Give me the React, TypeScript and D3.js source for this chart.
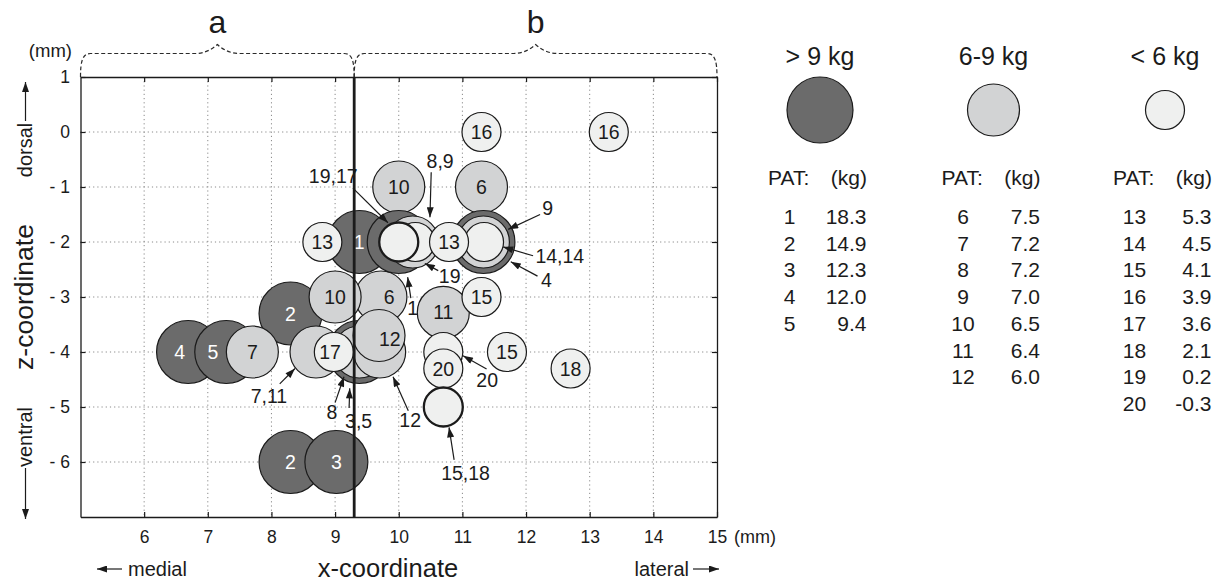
import React, { useRef, useEffect } from "react";
import * as d3 from "d3";

const W = 1215;
const H = 584;
const FONT = "'Liberation Sans', Arial, Helvetica, sans-serif";

// axes (mm)
const xDomain = [5, 15];
const zDomain = [-7, 1];
const xTicks = [6, 7, 8, 9, 10, 11, 12, 13, 14, 15];
const zTicks = [1, 0, -1, -2, -3, -4, -5, -6];
const xGrid = [6, 7, 8, 9, 10, 11, 12, 13, 14];
const zGrid = [0, -1, -2, -3, -4, -5, -6];
const divider = 9.3;

// patients and their weights (kg)
const patIds = d3.range(1, 21);
const patKg = [18.3, 14.9, 12.3, 12.0, 9.4, 7.5, 7.2, 7.2, 7.0, 6.5, 6.4, 6.0, 5.3, 4.5, 4.1, 3.9, 3.6, 2.1, 0.2, -0.3];

const classes = [
  { key: "heavy", title: "> 9 kg" },
  { key: "mid", title: "6-9 kg" },
  { key: "light", title: "< 6 kg" },
];

// spots in drawing order; lx / lz = where the number is printed when it is not the centre
type Spot = { pat: number; x: number; z: number; label?: boolean; stack?: boolean; lx?: number; lz?: number };
const spots: Spot[] = [
  { pat: 2, x: 8.3, z: -3.3, label: true },
  { pat: 4, x: 6.69, z: -4.0, label: true, lx: 6.56 },
  { pat: 5, x: 7.29, z: -4.0, label: true, lx: 7.08 },
  { pat: 7, x: 7.7, z: -4.0, label: true },
  { pat: 3, x: 9.38, z: -4.0 },
  { pat: 8, x: 9.38, z: -4.0 },
  { pat: 11, x: 8.7, z: -4.0 },
  { pat: 17, x: 8.98, z: -4.0, label: true, lx: 8.92 },
  { pat: 6, x: 9.72, z: -3.0, label: true, lx: 9.85 },
  { pat: 10, x: 9.0, z: -3.0, label: true },
  { pat: 12, x: 9.7, z: -4.0 },
  { pat: 12, x: 9.69, z: -3.7, label: true, lx: 9.86, lz: -3.76 },
  { pat: 10, x: 10.0, z: -1.0, label: true },
  { pat: 6, x: 11.3, z: -1.0, label: true },
  { pat: 1, x: 9.38, z: -2.0, label: true },
  { pat: 1, x: 10.0, z: -2.0 },
  { pat: 9, x: 10.22, z: -2.0 },
  { pat: 19, x: 10.26, z: -2.0 },
  { pat: 17, x: 10.0, z: -2.0, stack: true },
  { pat: 13, x: 8.8, z: -2.0, label: true },
  { pat: 4, x: 11.33, z: -2.0 },
  { pat: 9, x: 11.33, z: -2.0 },
  { pat: 14, x: 11.34, z: -2.0 },
  { pat: 13, x: 10.79, z: -2.0, label: true },
  { pat: 16, x: 11.3, z: 0.0, label: true },
  { pat: 16, x: 13.3, z: 0.0, label: true },
  { pat: 11, x: 10.7, z: -3.28, label: true },
  { pat: 15, x: 11.3, z: -3.0, label: true },
  { pat: 20, x: 10.7, z: -4.0 },
  { pat: 20, x: 10.7, z: -4.3, label: true },
  { pat: 15, x: 10.7, z: -5.0, stack: true },
  { pat: 15, x: 11.7, z: -4.0, label: true },
  { pat: 18, x: 12.7, z: -4.3, label: true },
  { pat: 2, x: 8.3, z: -6.0, label: true },
  { pat: 3, x: 9.02, z: -6.0, label: true },
];

// callouts: text anchor (middle, baseline) and arrow from (x1,z1) to (x2,z2), all in mm
const callouts = [
  { text: "19,17", tx: 8.97, tz: -0.93, x1: 9.28, z1: -1.02, x2: 9.83, z2: -1.65 },
  { text: "8,9", tx: 10.65, tz: -0.65, x1: 10.51, z1: -0.73, x2: 10.49, z2: -1.55 },
  { text: "9", tx: 12.34, tz: -1.51, x1: 12.22, z1: -1.5, x2: 11.72, z2: -1.77 },
  { text: "14,14", tx: 12.53, tz: -2.38, x1: 12.11, z1: -2.25, x2: 11.64, z2: -2.09 },
  { text: "4", tx: 12.32, tz: -2.81, x1: 12.18, z1: -2.62, x2: 11.76, z2: -2.36 },
  { text: "19", tx: 10.8, tz: -2.75, x1: 10.62, z1: -2.52, x2: 10.41, z2: -2.39 },
  { text: "1", tx: 10.22, tz: -3.33, x1: 10.19, z1: -3.02, x2: 10.14, z2: -2.64 },
  { text: "7,11", tx: 7.96, tz: -4.93, x1: 8.13, z1: -4.58, x2: 8.37, z2: -4.3 },
  { text: "8", tx: 8.95, tz: -5.21, x1: 9.0, z1: -4.92, x2: 9.14, z2: -4.45 },
  { text: "3,5", tx: 9.37, tz: -5.39, x1: 9.22, z1: -5.02, x2: 9.23, z2: -4.66 },
  { text: "12", tx: 10.18, tz: -5.37, x1: 10.15, z1: -5.07, x2: 9.91, z2: -4.45 },
  { text: "20", tx: 11.39, tz: -4.64, x1: 11.38, z1: -4.31, x2: 11.01, z2: -4.07 },
  { text: "15,18", tx: 11.05, tz: -6.33, x1: 10.87, z1: -5.96, x2: 10.79, z2: -5.37 },
];

const fill: Record<string, string> = { heavy: "#6b6b6b", mid: "#d2d3d4", light: "#eff0ef" };
const radius: Record<string, number> = { heavy: 31.5, mid: 26, light: 19.5 };
const INK = "#1b1b1b";

const classOf = (kg: number) => (kg > 9 ? "heavy" : kg >= 6 ? "mid" : "light");
const kgOf = (pat: number) => patKg[patIds.indexOf(pat)];

export default function App() {
  const svgRef = useRef<SVGSVGElement>(null);

  useEffect(() => {
    const svg = d3.select(svgRef.current);
    svg.selectAll("*").remove();
    svg.style("font-family", FONT);

    const left = 80.5, right = 717, top = 77, bottom = 517;
    const x = d3.scaleLinear().domain(xDomain).range([left, right]);
    const z = d3.scaleLinear().domain(zDomain).range([bottom, top]);

    const defs = svg.append("defs");
    defs
      .append("marker")
      .attr("id", "head")
      .attr("viewBox", "0 0 10 7")
      .attr("refX", 10)
      .attr("refY", 3.5)
      .attr("markerUnits", "userSpaceOnUse")
      .attr("markerWidth", 11)
      .attr("markerHeight", 7)
      .attr("orient", "auto")
      .append("path")
      .attr("d", "M0,0 L10,3.5 L0,7 z")
      .attr("fill", INK);

    // grid
    const grid = svg.append("g").attr("stroke", "#8a8a8a").attr("stroke-width", 1).attr("stroke-dasharray", "1.2,3");
    xGrid.forEach((v) => grid.append("line").attr("x1", x(v)).attr("x2", x(v)).attr("y1", top).attr("y2", bottom));
    zGrid.forEach((v) => grid.append("line").attr("y1", z(v)).attr("y2", z(v)).attr("x1", left).attr("x2", right));

    // axes with inner ticks
    const styleAxis = (g: any) => {
      g.selectAll("path").attr("stroke", INK).attr("stroke-width", 1.3);
      g.selectAll("line").attr("stroke", INK).attr("stroke-width", 1.2);
      g.selectAll("text").attr("fill", INK).style("font-family", FONT).style("font-size", "17.5px");
    };
    svg
      .append("g")
      .attr("transform", `translate(0,${bottom})`)
      .call(d3.axisBottom(x).tickValues(xTicks).tickSize(-5).tickSizeOuter(0).tickPadding(13.5).tickFormat(d3.format("d")))
      .call(styleAxis);
    svg
      .append("g")
      .attr("transform", `translate(${left},0)`)
      .call(
        d3
          .axisLeft(z)
          .tickValues(zTicks)
          .tickSize(-5)
          .tickSizeOuter(0)
          .tickPadding(10.5)
          .tickFormat((d: any) => (d < 0 ? `- ${Math.abs(d)}` : `${d}`))
      )
      .call(styleAxis);
    svg
      .append("g")
      .attr("transform", `translate(0,${top})`)
      .call(d3.axisTop(x).tickValues(xTicks).tickSize(-5).tickSizeOuter(0).tickFormat(() => ""))
      .call(styleAxis);
    svg
      .append("g")
      .attr("transform", `translate(${right},0)`)
      .call(d3.axisRight(z).tickValues(zTicks).tickSize(-5).tickSizeOuter(0).tickFormat(() => ""))
      .call(styleAxis);

    // spots
    const spotG = svg.append("g");
    spots.forEach((s) => {
      const cls = classOf(kgOf(s.pat));
      spotG
        .append("circle")
        .attr("cx", x(s.x))
        .attr("cy", z(s.z))
        .attr("r", radius[cls])
        .attr("fill", fill[cls])
        .attr("stroke", INK)
        .attr("stroke-width", s.stack ? 2.3 : 1.2);
      if (s.label) {
        spotG
          .append("text")
          .attr("x", x(s.lx ?? s.x))
          .attr("y", z(s.lz ?? s.z))
          .attr("dy", "0.36em")
          .attr("text-anchor", "middle")
          .attr("fill", cls === "heavy" ? "#ffffff" : INK)
          .style("font-size", "19.5px")
          .text(s.pat);
      }
    });

    // medial/lateral divider
    svg
      .append("line")
      .attr("x1", x(divider))
      .attr("x2", x(divider))
      .attr("y1", top)
      .attr("y2", bottom)
      .attr("stroke", INK)
      .attr("stroke-width", 2.8);

    // callouts
    const cg = svg.append("g");
    callouts.forEach((c) => {
      cg.append("line")
        .attr("x1", x(c.x1))
        .attr("y1", z(c.z1))
        .attr("x2", x(c.x2))
        .attr("y2", z(c.z2))
        .attr("stroke", INK)
        .attr("stroke-width", 1.2)
        .attr("marker-end", "url(#head)");
      cg.append("text")
        .attr("x", x(c.tx))
        .attr("y", z(c.tz))
        .attr("text-anchor", "middle")
        .attr("fill", INK)
        .style("font-size", "19.5px")
        .text(c.text);
    });

    // braces a / b
    const brace = (x0: number, x1: number) => {
      const yb = top, yt = 53.5, yp = 44.5, mid = (x0 + x1) / 2;
      return `M${x0},${yb} C${x0},${yt + 8} ${x0 + 2},${yt} ${x0 + 10},${yt} L${mid - 22},${yt} Q${mid - 10},${yt} ${mid},${yp} Q${mid + 10},${yt} ${mid + 22},${yt} L${x1 - 10},${yt} C${x1 - 2},${yt} ${x1},${yt + 8} ${x1},${yb}`;
    };
    [
      { t: "a", a: x(xDomain[0]), b: x(divider) },
      { t: "b", a: x(divider), b: x(xDomain[1]) },
    ].forEach((br) => {
      svg
        .append("path")
        .attr("d", brace(br.a, br.b))
        .attr("fill", "none")
        .attr("stroke", "#2a2a2a")
        .attr("stroke-width", 1.2)
        .attr("stroke-dasharray", "4,2.5");
      svg
        .append("text")
        .attr("x", (br.a + br.b) / 2)
        .attr("y", 33)
        .attr("text-anchor", "middle")
        .attr("fill", INK)
        .style("font-size", "32px")
        .text(br.t);
    });

    // unit labels
    svg.append("text").attr("x", 72).attr("y", 57).attr("text-anchor", "end").attr("fill", INK).style("font-size", "18.5px").text("(mm)");
    svg.append("text").attr("x", 734).attr("y", 543).attr("fill", INK).style("font-size", "18px").text("(mm)");

    // x title and direction arrows
    svg.append("text").attr("x", 388).attr("y", 577).attr("text-anchor", "middle").attr("fill", INK).style("font-size", "25.5px").text("x-coordinate");
    svg.append("text").attr("x", 128).attr("y", 576).attr("fill", INK).style("font-size", "20px").text("medial");
    svg.append("line").attr("x1", 122).attr("x2", 97).attr("y1", 569).attr("y2", 569).attr("stroke", INK).attr("stroke-width", 1.2).attr("marker-end", "url(#head)");
    svg.append("text").attr("x", 689).attr("y", 576).attr("text-anchor", "end").attr("fill", INK).style("font-size", "20px").text("lateral");
    svg.append("line").attr("x1", 693).attr("x2", 719).attr("y1", 569).attr("y2", 569).attr("stroke", INK).attr("stroke-width", 1.2).attr("marker-end", "url(#head)");

    // z title and direction arrows
    svg.append("text").attr("transform", "translate(33,297) rotate(-90)").attr("text-anchor", "middle").attr("fill", INK).style("font-size", "26.5px").text("z-coordinate");
    svg.append("text").attr("transform", "translate(32,150) rotate(-90)").attr("text-anchor", "middle").attr("fill", INK).style("font-size", "20px").text("dorsal");
    svg.append("line").attr("x1", 25.5).attr("x2", 25.5).attr("y1", 121).attr("y2", 82).attr("stroke", INK).attr("stroke-width", 1.2).attr("marker-end", "url(#head)");
    svg.append("text").attr("transform", "translate(32,437) rotate(-90)").attr("text-anchor", "middle").attr("fill", INK).style("font-size", "20px").text("ventral");
    svg.append("line").attr("x1", 25.5).attr("x2", 25.5).attr("y1", 468).attr("y2", 519).attr("stroke", INK).attr("stroke-width", 1.2).attr("marker-end", "url(#head)");

    // legend
    const colX = [820, 993.5, 1165];
    const legR: Record<string, number> = { heavy: 33, mid: 26, light: 19.5 };
    const rowY = (i: number) => 224 + i * 26.7;
    classes.forEach((c, ci) => {
      const cx = colX[ci];
      const lg = svg.append("g");
      lg.append("text").attr("x", cx).attr("y", 65).attr("text-anchor", "middle").attr("fill", INK).style("font-size", "25px").text(c.title);
      lg.append("circle").attr("cx", cx).attr("cy", 110).attr("r", legR[c.key]).attr("fill", fill[c.key]).attr("stroke", INK).attr("stroke-width", 1.2);
      lg.append("text").attr("x", cx - 52).attr("y", 185).attr("fill", INK).style("font-size", "21px").text("PAT:");
      lg.append("text").attr("x", cx + 47).attr("y", 185).attr("text-anchor", "end").attr("fill", INK).style("font-size", "21px").text("(kg)");
      const members = patIds.filter((p) => classOf(kgOf(p)) === c.key);
      members.forEach((p, i) => {
        lg.append("text").attr("x", cx - 30.5).attr("y", rowY(i)).attr("text-anchor", "middle").attr("fill", INK).style("font-size", "21px").text(p);
        lg.append("text").attr("x", cx + 46.5).attr("y", rowY(i)).attr("text-anchor", "end").attr("fill", INK).style("font-size", "21px").text(kgOf(p).toFixed(1));
      });
    });
  }, []);

  return (
    <svg
      ref={svgRef}
      width={W}
      height={H}
      style={{ position: "absolute", left: 0, top: 0, background: "#ffffff", display: "block" }}
    />
  );
}
